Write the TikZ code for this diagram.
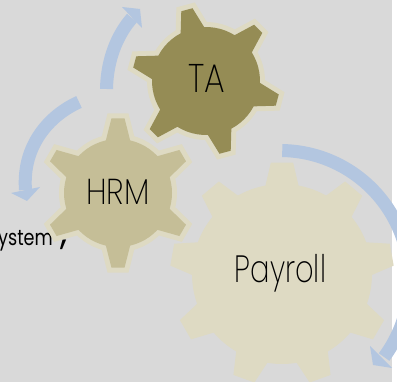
\documentclass[tikz,border=0pt]{standalone}
\usepackage{fontspec}
\setmainfont{Poppins ExtraLight}
\newfontfamily\medfont{Poppins}
\definecolor{bgc}{HTML}{D9D9D9}
\definecolor{blu}{HTML}{B3C6E0}
\definecolor{cream}{HTML}{DEDAC3}
\definecolor{tac}{HTML}{958C55}
\definecolor{hrc}{HTML}{C5BE97}
\tikzset{x=1pt,y=-1pt,
 sweep/.style={draw=blu,line width=13pt},
 head/.style={fill=blu,draw=none},
 gearlab/.style={inner sep=0pt,text=black,anchor=base},
 edge/.style={draw=cream,line width=10pt,line join=miter,miter limit=2}}
\begin{document}
\begin{tikzpicture}
\useasboundingbox (0,0) rectangle (397,382);
\clip (0,0) rectangle (397,382);
\fill[bgc] (0,0) rectangle (392,382);
\node[anchor=base west,inner sep=0pt,font=\medfont\fontsize{22}{22}\selectfont] (sys) at (-2,245.5) {\scalebox{.8}[1]{ystem}};
\node[anchor=base west,inner sep=0pt,font=\medfont\fontsize{36}{36}\selectfont] (cm) at (60,245) {,};
\node[anchor=east,inner sep=0pt,font=\medfont\fontsize{26}{26}\selectfont] (par) at (2,59) {)};
\foreach \cx/\cy/\n/\R/\r/\st/\tp/\bs/\fc/\bd in {282/274/9/112/90/90/5.7/10.6/cream/0,206/81/6/74/54/105/4.5/13/tac/10,118/193/6/75/54/90/5/13/hrc/10}{
 \pgfmathsetmacro{\gs}{360/\n}
 \pgfmathtruncatemacro{\nl}{\n-1}
 \gdef\gp{}
 \foreach \i in {0,...,\nl}{
  \pgfmathsetmacro{\ga}{\st+\i*\gs}
  \pgfmathsetmacro{\aa}{\ga-\bs}\pgfmathsetmacro{\ab}{\ga-\tp}
  \pgfmathsetmacro{\ac}{\ga+\tp}\pgfmathsetmacro{\ad}{\ga+\bs}
  \pgfmathsetmacro{\ae}{\ga+\gs-\bs}
  \pgfmathsetmacro{\xa}{\cx+\r*cos(\aa)}\pgfmathsetmacro{\ya}{\cy-\r*sin(\aa)}
  \pgfmathsetmacro{\xb}{\cx+\R*cos(\ab)}\pgfmathsetmacro{\yb}{\cy-\R*sin(\ab)}
  \pgfmathsetmacro{\xc}{\cx+\R*cos(\ac)}\pgfmathsetmacro{\yc}{\cy-\R*sin(\ac)}
  \pgfmathsetmacro{\xd}{\cx+\r*cos(\ad)}\pgfmathsetmacro{\yd}{\cy-\r*sin(\ad)}
  \xdef\gp{\gp (\xa,\ya) -- (\xb,\yb) -- (\xc,\yc) -- (\xd,\yd) -- }
  \foreach \k in {1,2,3,4,5}{
   \pgfmathsetmacro{\am}{\ad+(\ae-\ad)*\k/6}
   \pgfmathsetmacro{\xm}{\cx+\r*cos(\am)}\pgfmathsetmacro{\ym}{\cy-\r*sin(\am)}
   \xdef\gp{\gp (\xm,\ym) -- }
  }
 }
 \ifnum\bd>0 \draw[edge,fill=cream] \gp cycle;\fi
 \fill[\fc] \gp cycle;
}
\node[gearlab,font=\fontsize{40}{40}\selectfont] (ta) at (206.5,93) {\scalebox{.82}[1]{TA}};
\node[gearlab,font=\fontsize{36}{36}\selectfont] (hrm) at (118,205) {\scalebox{.86}[1]{HRM}};
\node[gearlab,font=\fontsize{38}{38}\selectfont] (pay) at (280.5,283) {\scalebox{.76}[1]{Payroll}};
\draw[sweep] (106.5,89) .. controls (107,60) and (117,35) .. (132,18);
\fill[head] (122,7) -- (140,9) -- (142,28) -- cycle;
\draw[sweep] (79,102) .. controls (50,115) and (22,145) .. (25.5,190);
\fill[head] (11,193) -- (40,187) -- (27,201) -- cycle;
\draw[sweep] plot[domain=89:-36.5,samples=50,smooth] ({280+129.5*cos(\x)},{280-129.5*sin(\x)});
\fill[head] (370,346) -- (373,365) -- (392,368) -- cycle;
\end{tikzpicture}
\end{document}
